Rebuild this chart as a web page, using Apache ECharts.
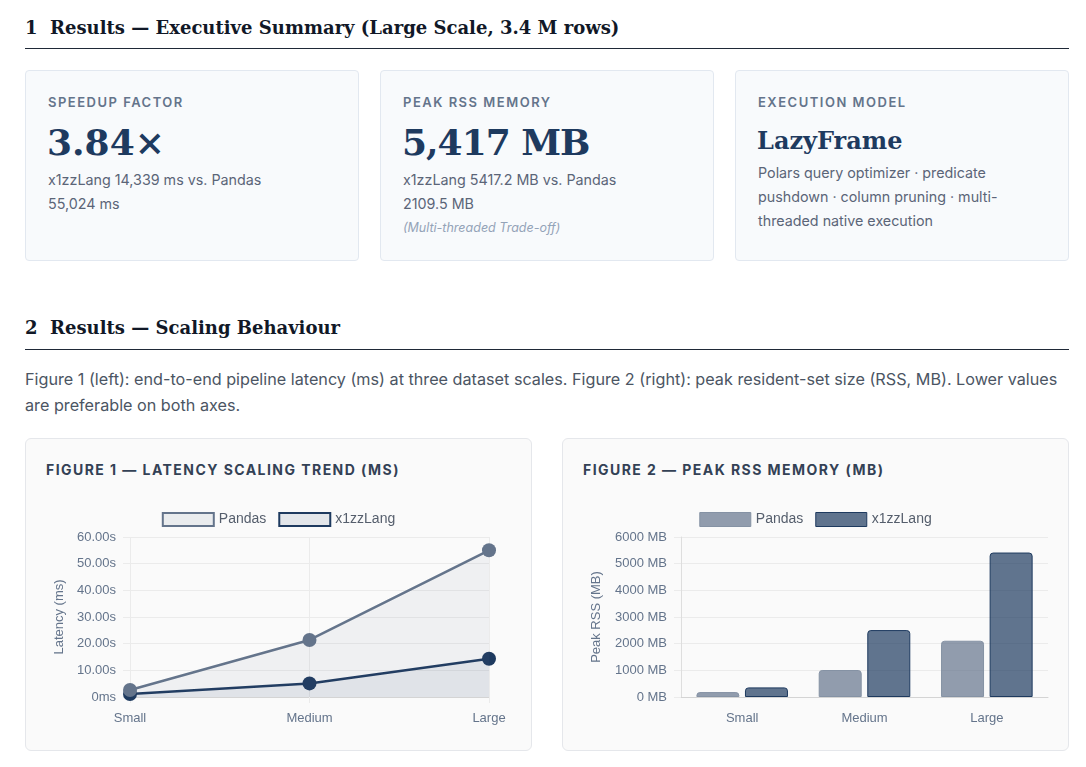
<!DOCTYPE html>
<html>
<head>
<meta charset="utf-8">
<script src="https://cdn.jsdelivr.net/npm/echarts@6/dist/echarts.min.js"></script>
<style>
  html, body { margin: 0; padding: 0; background: #ffffff; }
  body { width: 1086px; height: 767px; position: relative; overflow: hidden; font-family: Inter, "Noto Sans", sans-serif; }
  .abs { position: absolute; }
  .h2 { font-family: "DejaVu Serif", serif; font-weight: 700; font-size: 18px; line-height: 24px; color: #111827; white-space: nowrap; }
  .rule { height: 1px; background: #1f2937; left: 25px; width: 1044px; }
  .card { background: #f8fafc; border: 1px solid #e2e8f0; border-radius: 4px; box-sizing: border-box; }
  .lbl { font-size: 13px; line-height: 16px; font-weight: 600; letter-spacing: 1.5px; color: #64748b; white-space: nowrap; }
  .val { font-family: "DejaVu Serif", serif; font-weight: 700; font-size: 36px; line-height: 44px; color: #1e3a5f; white-space: nowrap; }
  .val2 { font-family: "DejaVu Serif", serif; font-weight: 700; font-size: 24px; line-height: 32px; color: #1e3a5f; white-space: nowrap; }
  .sub { font-size: 14.3px; line-height: 24px; color: #5b6578; }
  .note { font-size: 12.5px; line-height: 24px; color: #94a3b8; font-style: italic; }
  .para { font-size: 16.2px; line-height: 26px; color: #4b5563; }
  .ccard { background: #fafafa; border: 1px solid #e5e7eb; border-radius: 6px; box-sizing: border-box; }
  .ctitle { font-size: 14px; line-height: 18px; font-weight: 700; letter-spacing: 1.45px; color: #334155; white-space: nowrap; }
</style>
</head>
<body>
<div class="abs h2" style="left:25px; top:16px;">1&nbsp; Results — Executive Summary (Large Scale, 3.4 M rows)</div>
<div class="abs rule" style="top:48px;"></div>

<div class="abs card" style="left:25px; top:70px; width:334px; height:191px;"></div>
<div class="abs card" style="left:380px; top:70px; width:334px; height:191px;"></div>
<div class="abs card" style="left:735px; top:70px; width:334px; height:191px;"></div>

<div class="abs lbl" style="left:48px; top:94px;">SPEEDUP FACTOR</div>
<div class="abs val" style="left:47px; top:120px;">3.84×</div>
<div class="abs sub" style="left:48px; top:168px; width:290px;">x1zzLang 14,339 ms vs. Pandas<br>55,024 ms</div>

<div class="abs lbl" style="left:403px; top:94px;">PEAK RSS MEMORY</div>
<div class="abs val" style="left:402px; top:120px; letter-spacing:-1px;">5,417 MB</div>
<div class="abs sub" style="left:403px; top:168px; width:290px;">x1zzLang 5417.2 MB vs. Pandas<br>2109.5 MB</div>
<div class="abs note" style="left:403px; top:216px;">(Multi-threaded Trade-off)</div>

<div class="abs lbl" style="left:758px; top:94px;">EXECUTION MODEL</div>
<div class="abs val2" style="left:757px; top:125px;">LazyFrame</div>
<div class="abs sub" style="left:758px; top:161px; width:262px;">Polars query optimizer · predicate pushdown · column pruning · multi-threaded native execution</div>

<div class="abs h2" style="left:25px; top:316px;">2&nbsp; Results — Scaling Behaviour</div>
<div class="abs rule" style="top:349px;"></div>

<div class="abs para" style="left:25px; top:366px; width:1045px;">Figure 1 (left): end-to-end pipeline latency (ms) at three dataset scales. Figure 2 (right): peak resident-set size (RSS, MB). Lower values are preferable on both axes.</div>

<div class="abs ccard" style="left:25px; top:438px; width:507px; height:313px;"></div>
<div class="abs ccard" style="left:562px; top:438px; width:507px; height:313px;"></div>
<div class="abs ctitle" style="left:46px; top:461px;">FIGURE 1 — LATENCY SCALING TREND (MS)</div>
<div class="abs ctitle" style="left:583px; top:461px;">FIGURE 2 — PEAK RSS MEMORY (MB)</div>

<div id="c1" class="abs" style="left:25px; top:495px; width:507px; height:250px;"></div>
<div id="c2" class="abs" style="left:562px; top:495px; width:507px; height:250px;"></div>

<script>
// ---- data ----
const categories = ['Small', 'Medium', 'Large'];
const seriesNames = ['Pandas', 'x1zzLang'];
const latencyPandas = [2650, 21400, 55024];
const latencyX1zz = [1150, 5100, 14339];
const memPandas = [185, 1012, 2109.5];
const memX1zz = [360, 2510, 5417.2];
const latencyTicks = [0, 10000, 20000, 30000, 40000, 50000, 60000];
const memTicks = [0, 1000, 2000, 3000, 4000, 5000, 6000];

const FONT = '"Liberation Sans", Arial, sans-serif';
const TICK = '#64748b';
const GRID = '#ebebeb';
const SLATE = '#64748b';
const NAVY = '#1e3a5f';

const c1 = echarts.init(document.getElementById('c1'), null, { renderer: 'canvas' });
c1.setOption({
  animation: false,
  textStyle: { fontFamily: FONT },
  legend: {
    top: 12, left: 'center', itemWidth: 51, itemHeight: 13, itemGap: 12,
    textStyle: { fontFamily: FONT, fontSize: 14, color: '#555e6c' },
    data: [
      { name: seriesNames[0], icon: 'rect', itemStyle: { color: 'rgba(100,116,139,0.1)', borderColor: SLATE, borderWidth: 2 } },
      { name: seriesNames[1], icon: 'rect', itemStyle: { color: 'rgba(30,58,95,0.1)', borderColor: NAVY, borderWidth: 2 } }
    ]
  },
  grid: { left: 105, right: 43, top: 42, bottom: 48 },
  xAxis: {
    type: 'category', data: categories, boundaryGap: false,
    axisLine: { show: true, lineStyle: { color: '#d4d4d4' } },
    axisTick: { show: true, length: 6, lineStyle: { color: GRID } },
    axisLabel: { color: TICK, fontSize: 13, margin: 15, fontFamily: FONT },
    splitLine: { show: true, lineStyle: { color: GRID } }
  },
  yAxis: {
    type: 'value', min: latencyTicks[0], max: latencyTicks[latencyTicks.length - 1], interval: 10000,
    name: 'Latency (ms)', nameLocation: 'middle', nameGap: 64, nameRotate: 90,
    nameTextStyle: { color: TICK, fontSize: 13, fontFamily: FONT },
    axisLine: { show: false },
    axisTick: { show: true, length: 7, lineStyle: { color: GRID } },
    axisLabel: { color: TICK, fontSize: 13, margin: 14, fontFamily: FONT,
      formatter: v => v === 0 ? '0ms' : (v / 1000).toFixed(2) + 's' },
    splitLine: { show: true, lineStyle: { color: GRID } }
  },
  series: [
    { name: seriesNames[0], type: 'line', data: latencyPandas, z: 4,
      symbol: 'circle', symbolSize: 14,
      lineStyle: { color: SLATE, width: 2.5 }, itemStyle: { color: SLATE },
      areaStyle: { color: 'rgba(100,116,139,0.1)', origin: 'start' } },
    { name: seriesNames[1], type: 'line', data: latencyX1zz, z: 3,
      symbol: 'circle', symbolSize: 14,
      lineStyle: { color: NAVY, width: 2.5 }, itemStyle: { color: NAVY },
      areaStyle: { color: 'rgba(30,58,95,0.1)', origin: 'start' } }
  ]
});

const c2 = echarts.init(document.getElementById('c2'), null, { renderer: 'canvas' });
c2.setOption({
  animation: false,
  textStyle: { fontFamily: FONT },
  legend: {
    top: 12, left: 'center', itemWidth: 51, itemHeight: 14, itemGap: 12,
    textStyle: { fontFamily: FONT, fontSize: 14, color: '#555e6c' },
    data: [
      { name: seriesNames[0], icon: 'rect', itemStyle: { color: 'rgba(100,116,139,0.7)', borderColor: '#8592a4', borderWidth: 1 } },
      { name: seriesNames[1], icon: 'rect', itemStyle: { color: 'rgba(30,58,95,0.7)', borderColor: NAVY, borderWidth: 1 } }
    ]
  },
  grid: { left: 119, right: 21, top: 42, bottom: 48 },
  xAxis: {
    type: 'category', data: categories,
    axisLine: { show: true, lineStyle: { color: '#d4d4d4' } },
    axisTick: { show: false },
    axisLabel: { color: TICK, fontSize: 13, margin: 15, fontFamily: FONT },
    splitLine: { show: false }
  },
  yAxis: {
    type: 'value', min: memTicks[0], max: memTicks[memTicks.length - 1], interval: 1000,
    name: 'Peak RSS (MB)', nameLocation: 'middle', nameGap: 78, nameRotate: 90,
    nameTextStyle: { color: TICK, fontSize: 13, fontFamily: FONT },
    axisLine: { show: true, lineStyle: { color: '#dedede' } },
    axisTick: { show: true, length: 7, lineStyle: { color: GRID } },
    axisLabel: { color: TICK, fontSize: 13, margin: 14, fontFamily: FONT,
      formatter: v => v + ' MB' },
    splitLine: { show: true, lineStyle: { color: GRID } }
  },
  series: [
    { name: seriesNames[0], type: 'bar', data: memPandas, barWidth: 43, barGap: '13%',
      itemStyle: { color: 'rgba(100,116,139,0.7)', borderColor: '#8592a4', borderWidth: 1, borderRadius: [3, 3, 0, 0] } },
    { name: seriesNames[1], type: 'bar', data: memX1zz, barWidth: 43,
      itemStyle: { color: 'rgba(30,58,95,0.7)', borderColor: NAVY, borderWidth: 1, borderRadius: [3, 3, 0, 0] } }
  ]
});
</script>
</body>
</html>
